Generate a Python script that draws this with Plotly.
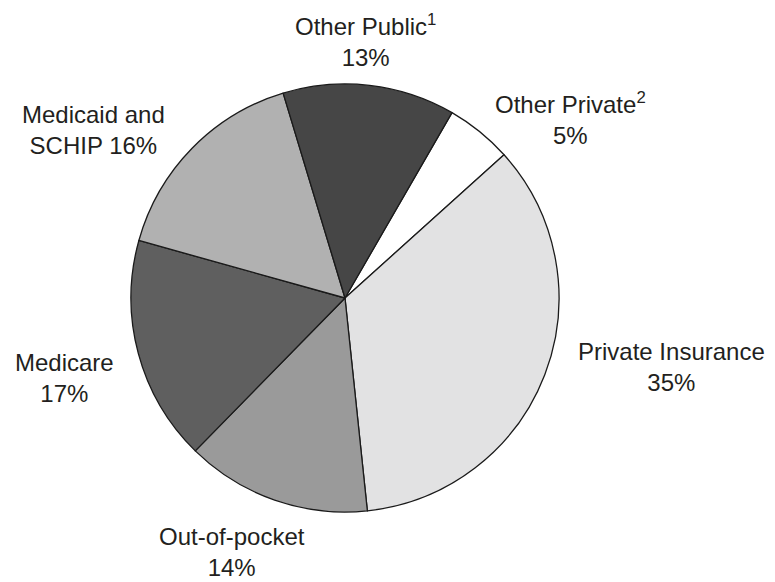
import plotly.graph_objects as go

# Data
categories = ["Other Private", "Private Insurance", "Out-of-pocket", "Medicare",
              "Medicaid and SCHIP", "Other Public"]
shares = [5, 35, 14, 17, 16, 13]
label_texts = ["Other Private<sup>2</sup><br>5%", "Private Insurance<br>35%",
               "Out-of-pocket<br>14%", "Medicare<br>17%",
               "Medicaid and<br>SCHIP 16%", "Other Public<sup>1</sup><br>13%"]

# Styles
slice_colors = ["#ffffff", "#e2e2e3", "#9a9a9a", "#5f5f5f", "#b1b1b1", "#464646"]
label_px = [(570, 119), (671, 367), (232, 552), (64, 378), (93, 130), (365, 41)]

W, H = 775, 582
cx, cy, r = 345, 298, 214

fig = go.Figure(go.Pie(
    labels=categories,
    values=shares,
    sort=False,
    direction="clockwise",
    rotation=30,
    textinfo="none",
    hoverinfo="label+percent",
    marker=dict(colors=slice_colors, line=dict(color="#1a1a1a", width=1.3)),
    domain=dict(x=[(cx - r) / W, (cx + r) / W],
                y=[(H - cy - r) / H, (H - cy + r) / H]),
    showlegend=False,
))

for txt, (px, py) in zip(label_texts, label_px):
    fig.add_annotation(
        x=px / W, y=1 - py / H, xref="paper", yref="paper",
        text=txt, showarrow=False, xanchor="center", yanchor="middle",
        align="center", borderpad=0,
        font=dict(family="Liberation Sans, Arial, sans-serif", size=24, color="#231f20"),
    )

fig.update_layout(
    width=W, height=H,
    margin=dict(l=0, r=0, t=0, b=0),
    paper_bgcolor="white",
    plot_bgcolor="white",
)

fig.write_html("out.html")
